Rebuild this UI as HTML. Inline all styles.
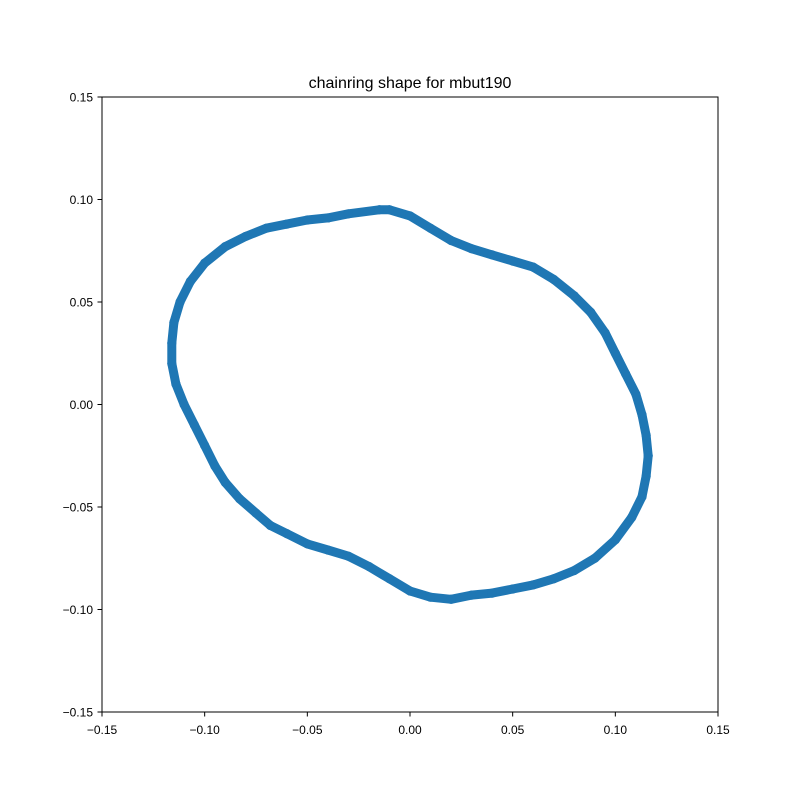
<!DOCTYPE html>
<html><head><meta charset="utf-8"><style>
body{margin:0;background:#fff}
text{font-family:"Liberation Sans","DejaVu Sans",sans-serif}
</style></head><body>
<svg id="chart" width="800" height="800" xmlns="http://www.w3.org/2000/svg">
<rect width="800" height="800" fill="#fff"/>
<text x="410" y="88" font-size="16" text-anchor="middle">chainring shape for mbut190</text>
<g id="marks"></g>
<rect x="102" y="97" width="616" height="615" fill="none" stroke="#000" stroke-width="1"/>
<g id="axes"></g>
</svg>
<script>
const xs=[-0.015,-0.03,-0.04,-0.05,-0.06,-0.07,-0.08,-0.09,-0.10,-0.107,-0.112,-0.115,-0.116,-0.116,-0.114,-0.110,-0.105,-0.100,-0.095,-0.090,-0.083,-0.075,-0.068,-0.060,-0.050,-0.040,-0.030,-0.020,-0.010,0.000,0.010,0.020,0.030,0.040,0.050,0.060,0.070,0.080,0.090,0.100,0.108,0.113,0.115,0.116,0.115,0.113,0.110,0.105,0.100,0.095,0.088,0.080,0.070,0.060,0.050,0.040,0.030,0.020,0.010,0.000,-0.010];
const ys=[0.095,0.093,0.091,0.090,0.088,0.086,0.082,0.077,0.069,0.060,0.050,0.040,0.030,0.020,0.010,0.000,-0.010,-0.020,-0.030,-0.038,-0.046,-0.053,-0.059,-0.063,-0.068,-0.071,-0.074,-0.079,-0.085,-0.091,-0.094,-0.095,-0.093,-0.092,-0.090,-0.088,-0.085,-0.081,-0.075,-0.066,-0.055,-0.045,-0.035,-0.025,-0.015,-0.005,0.005,0.015,0.025,0.035,0.045,0.053,0.061,0.067,0.070,0.073,0.076,0.080,0.086,0.092,0.095];
const xTicks=[-0.15,-0.10,-0.05,0.00,0.05,0.10,0.15];
const yTicks=[-0.15,-0.10,-0.05,0.00,0.05,0.10,0.15];
const xTickLabels=["−0.15","−0.10","−0.05","0.00","0.05","0.10","0.15"];
const yTickLabels=["−0.15","−0.10","−0.05","0.00","0.05","0.10","0.15"];
const NS="http://www.w3.org/2000/svg";
function sx(v){return 102+(v+0.15)/0.3*616;}
function sy(v){return 712-(v+0.15)/0.3*615;}
const marks=document.getElementById('marks');
let d="";
for(let i=0;i<xs.length;i++){d+=(i?"L":"M")+sx(xs[i]).toFixed(1)+","+sy(ys[i]).toFixed(1);}
d+="Z";
const p=document.createElementNS(NS,'path');
p.setAttribute('d',d);p.setAttribute('fill','none');p.setAttribute('stroke','#1f77b4');p.setAttribute('stroke-width','9');p.setAttribute('stroke-linejoin','round');


marks.appendChild(p);
for(let i=0;i<xs.length;i++){
 const c=document.createElementNS(NS,'circle');
 c.setAttribute('cx',sx(xs[i]));c.setAttribute('cy',sy(ys[i]));c.setAttribute('r','4.6');c.setAttribute('fill','#1f77b4');
 
 
 marks.appendChild(c);
}
const axes=document.getElementById('axes');
xTicks.forEach((v,i)=>{
 const l=document.createElementNS(NS,'line');
 l.setAttribute('x1',sx(v));l.setAttribute('x2',sx(v));l.setAttribute('y1',712);l.setAttribute('y2',716.5);l.setAttribute('stroke','#000');
 
 
 axes.appendChild(l);
 const t=document.createElementNS(NS,'text');
 t.setAttribute('x',sx(v));t.setAttribute('y',734);t.setAttribute('font-size','12');t.setAttribute('text-anchor','middle');
 t.textContent=xTickLabels[i];
 
 
 axes.appendChild(t);
});
yTicks.forEach((v,i)=>{
 const l=document.createElementNS(NS,'line');
 l.setAttribute('x1',97.5);l.setAttribute('x2',102);l.setAttribute('y1',sy(v));l.setAttribute('y2',sy(v));l.setAttribute('stroke','#000');
 
 
 axes.appendChild(l);
 const t=document.createElementNS(NS,'text');
 t.setAttribute('x',93);t.setAttribute('y',sy(v)+4.5);t.setAttribute('font-size','12');t.setAttribute('text-anchor','end');
 t.textContent=yTickLabels[i];
 
 
 axes.appendChild(t);
});
</script>
</body></html>
